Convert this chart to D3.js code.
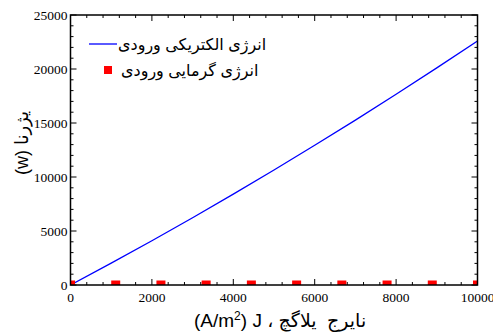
<!DOCTYPE html>
<html>
<head>
<meta charset="utf-8">
<script src="https://cdn.jsdelivr.net/npm/d3@7"></script>
<style>
  body { margin: 0; background: #fff; }
  svg text { fill: #000; }
</style>
</head>
<body>
<div id="chart"></div>
<script>
// current density J (A/m2)
var jValues = [0, 1000, 2000, 3000, 4000, 5000, 6000, 7000, 8000, 9000, 10000];
// electrical input energy (W)
var electricPower = [0, 2030, 4100, 6230, 8420, 10650, 12940, 15270, 17660, 20100, 22600];
// thermal input energy markers
var thermalJ = [0, 1111, 2222, 3333, 4444, 5556, 6667, 7778, 8889, 10000];
var thermalPower = [0, 0, 0, 0, 0, 0, 0, 0, 0, 0];

var xTicks = [0, 2000, 4000, 6000, 8000, 10000];
var yTicks = [0, 5000, 10000, 15000, 20000, 25000];
var seriesNames = ["انرژی الکتریکی ورودی", "انرژی گرمایی ورودی"];

var width = 493, height = 334;
var margin = {left: 70.5, right: 15.5, top: 15, bottom: 49};

var x = d3.scaleLinear().domain([0, 10000]).range([margin.left, width - margin.right]);
var y = d3.scaleLinear().domain([0, 25000]).range([height - margin.bottom, margin.top]);

var svg = d3.select("#chart").append("svg")
  .attr("width", width)
  .attr("height", height);

svg.append("clipPath").attr("id", "clip")
  .append("rect")
  .attr("x", x(0)).attr("y", y(25000))
  .attr("width", x(10000) - x(0)).attr("height", y(0) - y(25000));

// minor ticks
var xMinor = d3.range(0, 10001, 400).filter(function(d) { return d % 2000 !== 0; });
var yMinor = d3.range(0, 25001, 1000).filter(function(d) { return d % 5000 !== 0; });

function tickLines(g, vals, isX, len) {
  vals.forEach(function(v) {
    if (isX) {
      g.append("line").attr("x1", x(v)).attr("x2", x(v)).attr("y1", y(0)).attr("y2", y(0) - len);
      g.append("line").attr("x1", x(v)).attr("x2", x(v)).attr("y1", y(25000)).attr("y2", y(25000) + len);
    } else {
      g.append("line").attr("y1", y(v)).attr("y2", y(v)).attr("x1", x(0)).attr("x2", x(0) + len);
      g.append("line").attr("y1", y(v)).attr("y2", y(v)).attr("x1", x(10000)).attr("x2", x(10000) - len);
    }
  });
}

var ticks = svg.append("g").attr("stroke", "#000").attr("stroke-width", 1);
tickLines(ticks, xTicks, true, 6);
tickLines(ticks, yTicks, false, 6);
tickLines(ticks, xMinor, true, 3);
tickLines(ticks, yMinor, false, 3);

// data
var plot = svg.append("g").attr("clip-path", "url(#clip)");

var line = d3.line()
  .x(function(d, i) { return x(jValues[i]); })
  .y(function(d) { return y(d); });

plot.append("path")
  .datum(electricPower)
  .attr("d", line)
  .attr("fill", "none")
  .attr("stroke", "#0000ff")
  .attr("stroke-width", 1.3);

var sq = 9;
plot.selectAll("rect.pt")
  .data(thermalPower)
  .enter().append("rect")
  .attr("class", "pt")
  .attr("x", function(d, i) { return x(thermalJ[i]) - sq / 2; })
  .attr("y", function(d) { return y(d) - sq / 2; })
  .attr("width", sq).attr("height", sq)
  .attr("fill", "#ff0000");

// frame
svg.append("rect")
  .attr("x", x(0)).attr("y", y(25000))
  .attr("width", x(10000) - x(0)).attr("height", y(0) - y(25000))
  .attr("fill", "none")
  .attr("stroke", "#000")
  .attr("stroke-width", 1.5);

// tick labels
var tickFont = "'Liberation Serif', 'Times New Roman', serif";
svg.selectAll("text.xt")
  .data(xTicks)
  .enter().append("text")
  .attr("class", "xt")
  .attr("x", function(d) { return x(d); })
  .attr("y", y(0) + 17)
  .attr("text-anchor", "middle")
  .style("font-family", tickFont)
  .style("font-size", "13.5px")
  .text(function(d) { return d; });

svg.selectAll("text.yt")
  .data(yTicks)
  .enter().append("text")
  .attr("class", "yt")
  .attr("x", x(0) - 3)
  .attr("y", function(d) { return y(d) + 4.5; })
  .attr("text-anchor", "end")
  .style("font-family", tickFont)
  .style("font-size", "13.5px")
  .text(function(d) { return d; });

// axis titles
var sans = "'Liberation Sans', Arial, 'DejaVu Sans', sans-serif";
var xt = svg.append("text")
  .attr("x", 194)
  .attr("y", 327)
  .attr("direction", "ltr")
  .style("font-family", sans)
  .style("font-size", "19px");
xt.append("tspan").text("(A/m");
xt.append("tspan").attr("dy", -7).style("font-size", "12px").text("2");
xt.append("tspan").attr("dy", 7).text(") J ، نایرج\u00a0\u00a0یلاگچ");

svg.append("text")
  .attr("transform", "translate(28,143) rotate(-90)")
  .attr("text-anchor", "middle")
  .attr("direction", "ltr")
  .style("font-family", sans)
  .style("font-size", "18px")
  .text("(w) یژرنا");

// legend
var legend = svg.append("g");
legend.append("line")
  .attr("x1", 89).attr("x2", 117).attr("y1", 44).attr("y2", 44)
  .attr("stroke", "#0000ff").attr("stroke-width", 1.3);
legend.append("text")
  .attr("x", 118).attr("y", 50)
  .style("font-family", sans)
  .style("font-size", "16px")
  .text(seriesNames[0]);
legend.append("rect")
  .attr("x", 104).attr("y", 66).attr("width", 8).attr("height", 8)
  .attr("fill", "#ff0000");
legend.append("text")
  .attr("x", 121).attr("y", 76)
  .style("font-family", sans)
  .style("font-size", "16px")
  .text(seriesNames[1]);
</script>
</body>
</html>
